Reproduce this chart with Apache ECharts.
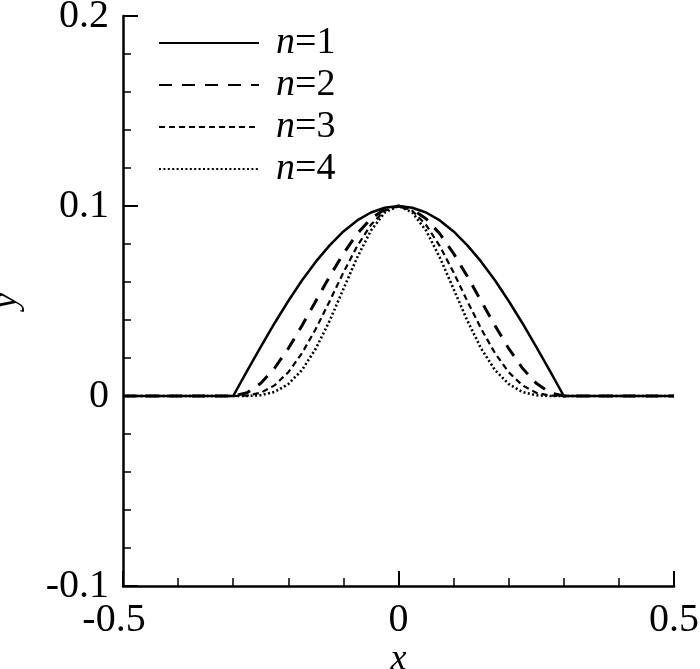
<!DOCTYPE html>
<html>
<head>
<meta charset="utf-8">
<script src="https://cdn.jsdelivr.net/npm/echarts@6/dist/echarts.min.js"></script>
<style>html,body{margin:0;padding:0;background:#fff}#c{width:700px;height:669px}</style>
</head>
<body>
<div id="c"></div>
<script>
// x positions (shared by all series)
const xs = [-0.5, -0.4, -0.3, -0.275, -0.25, -0.225, -0.2, -0.175, -0.15, -0.125, -0.1, -0.075, -0.05, -0.025, 0,
            0.025, 0.05, 0.075, 0.1, 0.125, 0.15, 0.175, 0.2, 0.225, 0.25, 0.275, 0.3, 0.4, 0.5];
// y values
const yN1 = [0, 0, 0, 0.0131, 0.0259, 0.0383, 0.05, 0.0609, 0.0707, 0.0793, 0.0866, 0.0924, 0.0966, 0.0991, 0.1,
             0.0991, 0.0966, 0.0924, 0.0866, 0.0793, 0.0707, 0.0609, 0.05, 0.0383, 0.0259, 0.0131, 0, 0, 0];
const yN2 = [0, 0, 0, 0.0017, 0.0067, 0.0146, 0.025, 0.0371, 0.05, 0.0629, 0.075, 0.0854, 0.0933, 0.0983, 0.1,
             0.0983, 0.0933, 0.0854, 0.075, 0.0629, 0.05, 0.0371, 0.025, 0.0146, 0.0067, 0.0017, 0, 0, 0];
const yN3 = [0, 0, 0, 0.0002, 0.0017, 0.0056, 0.0125, 0.0226, 0.0354, 0.0499, 0.065, 0.0789, 0.0901, 0.0975, 0.1,
             0.0975, 0.0901, 0.0789, 0.065, 0.0499, 0.0354, 0.0226, 0.0125, 0.0056, 0.0017, 0.0002, 0, 0, 0];
const yN4 = [0, 0, 0, 0, 0.0004, 0.0021, 0.0063, 0.0137, 0.025, 0.0396, 0.0563, 0.0729, 0.0871, 0.0966, 0.1,
             0.0966, 0.0871, 0.0729, 0.0563, 0.0396, 0.025, 0.0137, 0.0063, 0.0021, 0.0004, 0, 0, 0, 0];
const seriesNames = ['n=1', 'n=2', 'n=3', 'n=4'];
const xTicks = [-0.5, 0, 0.5];
const yTicks = [-0.1, 0, 0.1, 0.2];

const FONT = 'Liberation Serif';
const pairs = ys => xs.map((x, i) => [x, ys[i]]);
const styles = [
  {width: 2.5, type: 'solid'},
  {width: 3, type: [13, 10]},
  {width: 2.2, type: [6, 4]},
  {width: 2.6, type: [2, 2.4]}
];
const allY = [yN1, yN2, yN3, yN4];

const chart = echarts.init(document.getElementById('c'), null, {renderer: 'canvas'});
chart.setOption({
  backgroundColor: '#fff',
  animation: false,
  grid: {left: 123, right: 26, top: 16, bottom: 83, containLabel: false, outerBoundsMode: 'none'},
  legend: {
    orient: 'vertical', left: 153, top: 19, itemWidth: 100, itemHeight: 14, itemGap: 4,
    data: seriesNames,
    itemStyle: {opacity: 0},
    formatter: n => '{i|n}{t|' + n.slice(1) + '}',
    textStyle: {
      color: '#000', fontFamily: FONT, fontSize: 38, padding: [0, 0, 0, 12],
      rich: {i: {fontStyle: 'italic', fontFamily: FONT, fontSize: 38, color: '#000'},
             t: {fontFamily: FONT, fontSize: 38, color: '#000'}}
    }
  },
  xAxis: {
    type: 'value', min: -0.5, max: 0.5, interval: 0.5,
    name: 'x', nameLocation: 'middle', nameGap: 56, nameMoveOverlap: false,
    nameTextStyle: {fontFamily: FONT, fontStyle: 'italic', fontSize: 36, color: '#000'},
    axisLine: {show: true, onZero: false, lineStyle: {color: '#000', width: 2.5}},
    axisTick: {show: true, inside: true, length: 15, lineStyle: {color: '#000', width: 2}},
    minorTick: {show: true, splitNumber: 5, length: 8, lineStyle: {color: '#000', width: 1.5}},
    splitLine: {show: false},
    axisLabel: {color: '#000', fontFamily: FONT, fontSize: 40, margin: 14,
      formatter: v => {
        if (!xTicks.some(t => Math.abs(t - v) < 1e-9)) return '';
        const s = String(+v.toFixed(2));
        return v < 0 ? '{neg|' + s + '}' : s;
      },
      rich: {neg: {fontFamily: FONT, fontSize: 40, color: '#000', padding: [0, 18, 0, 0]}}
    }
  },
  yAxis: {
    type: 'value', min: -0.1, max: 0.2, interval: 0.1,
    name: 'y', nameLocation: 'middle', nameGap: 98, nameRotate: 90, nameMoveOverlap: false,
    nameTextStyle: {fontFamily: FONT, fontStyle: 'italic', fontSize: 36, color: '#000'},
    axisLine: {show: true, onZero: false, lineStyle: {color: '#000', width: 2.5}},
    axisTick: {show: true, inside: true, length: 15, lineStyle: {color: '#000', width: 2}},
    minorTick: {show: true, splitNumber: 5, length: 8, lineStyle: {color: '#000', width: 1.5}},
    splitLine: {show: false},
    axisLabel: {color: '#000', fontFamily: FONT, fontSize: 40, margin: 14,
      formatter: v => yTicks.some(t => Math.abs(t - v) < 1e-9) ? String(+v.toFixed(2)) : ''}
  },
  series: seriesNames.map((n, i) => ({
    name: n, type: 'line', data: pairs(allY[i]), symbol: 'none', showSymbol: false,
    smooth: false, z: 10 - i,
    color: '#000',
    lineStyle: {color: '#000', width: styles[i].width, type: styles[i].type, cap: 'butt', join: 'round'}
  }))
});
</script>
</body>
</html>
